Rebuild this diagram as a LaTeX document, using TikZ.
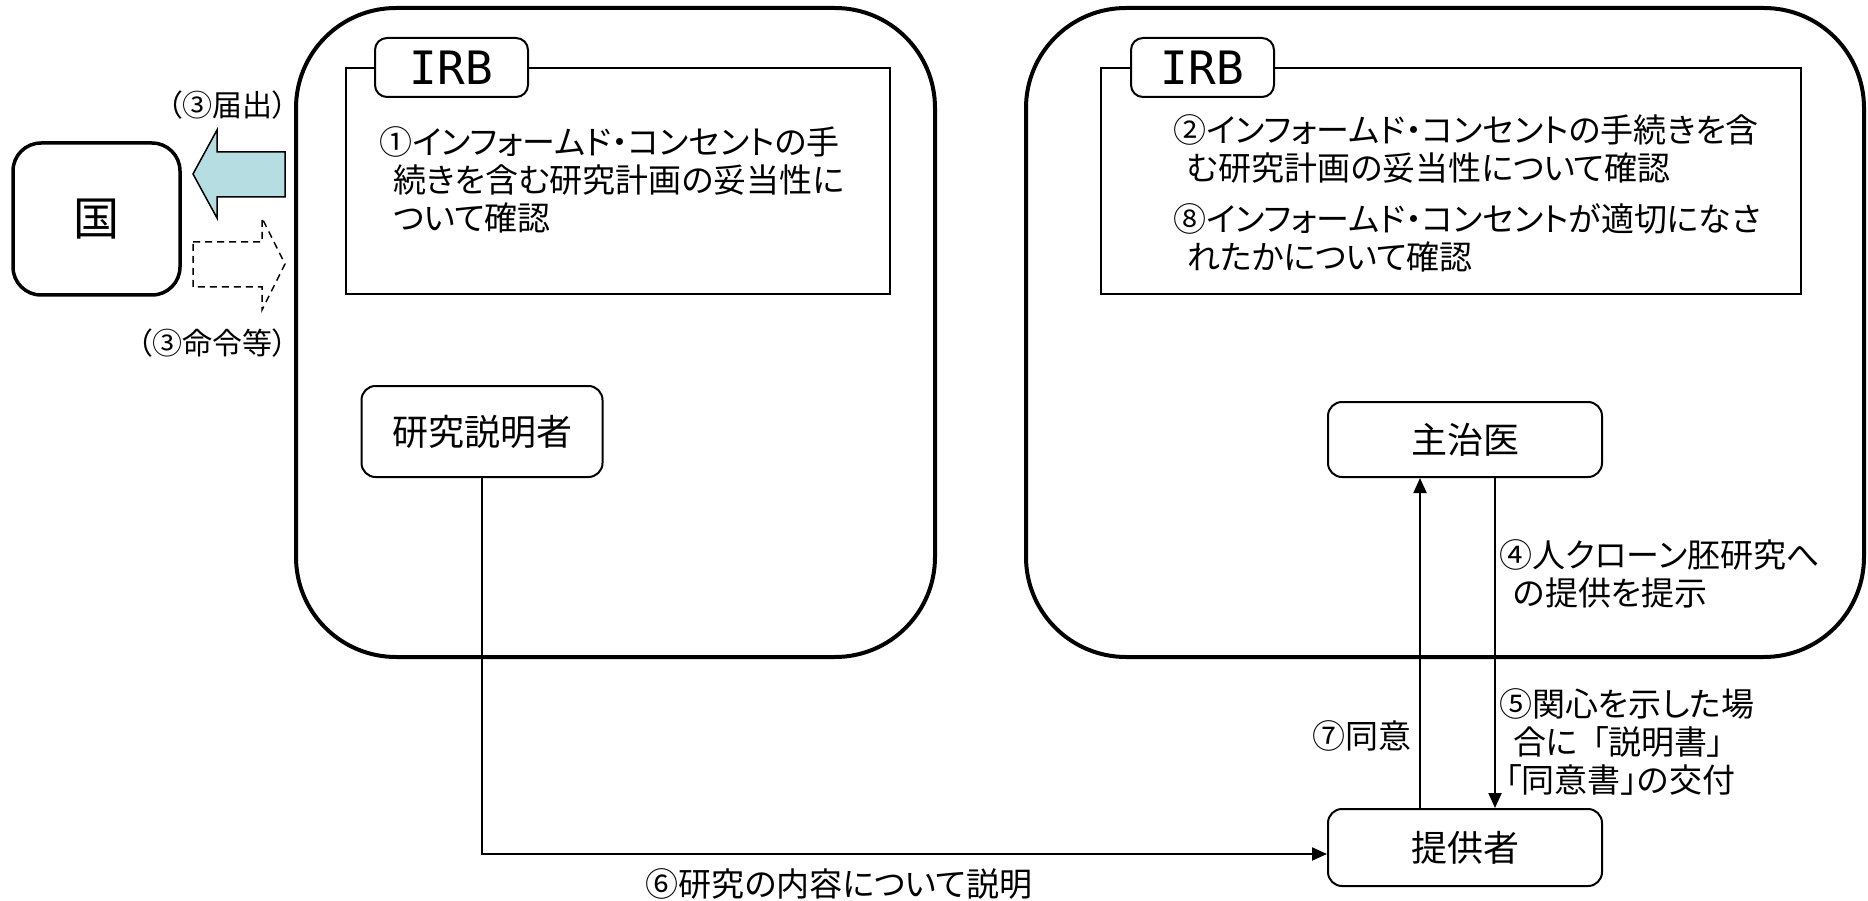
\documentclass[tikz,border=0pt]{standalone}
\usepackage{fontspec}
\setmainfont{Noto Sans CJK JP}[RawFeature=+palt]
\newfontfamily\irbfont{DejaVu Sans Mono}
\usetikzlibrary{arrows.meta}
\definecolor{aqua}{HTML}{B6DDE1}
\begin{document}
\begin{tikzpicture}[x=1pt,y=-1pt,
  bigbox/.style={draw,line width=4pt,rounded corners=100pt,inner sep=0pt},
  panel/.style={draw,line width=2pt,inner sep=0pt},
  tabbox/.style={draw,fill=white,line width=2pt,rounded corners=12pt,inner sep=0pt,font=\irbfont\fontsize{46}{46}\selectfont},
  actor/.style={draw,line width=2pt,rounded corners=14pt,inner sep=0pt,font=\fontsize{36}{36}\selectfont},
  txt/.style={align=left,inner sep=0pt,font=\fontsize{33}{38}\selectfont},
  lbl/.style={inner sep=0pt,font=\fontsize{30}{36}\selectfont},
  arr/.style={line width=2pt,-{Triangle[length=15pt,width=13pt]}}]
\useasboundingbox (0,0) rectangle (1868,901);
% big frames
\node[bigbox,minimum width=639pt,minimum height=649pt] (left) at (615.5,332.5) {};
\node[bigbox,minimum width=838pt,minimum height=649pt] (right) at (1445,332.5) {};
% IRB panels
\node[panel,minimum width=544pt,minimum height=226pt] (panelL) at (618,181) {};
\node[panel,minimum width=700pt,minimum height=226pt] (panelR) at (1451,181) {};
\node[tabbox,minimum width=153pt,minimum height=59pt] (tabL) at (451.5,67.5) {IRB};
\node[tabbox,minimum width=143pt,minimum height=59pt] (tabR) at (1202.5,67.5) {IRB};
\node[txt,anchor=north west] (t1) at (379,126) {①インフォームド・コンセントの手\\\hspace*{14pt}続きを含む研究計画の妥当性に\\\hspace*{14pt}ついて確認};
\node[txt,anchor=north west] (t2) at (1173,114) {②インフォームド・コンセントの手続きを含\\\hspace*{14pt}む研究計画の妥当性について確認};
\node[txt,anchor=north west] (t8) at (1173,203) {⑧インフォームド・コンセントが適切になさ\\\hspace*{14pt}れたかについて確認};
% country
\node[draw,line width=3.5pt,rounded corners=28pt,minimum width=167pt,minimum height=152pt,inner sep=0pt,font=\fontsize{46}{46}\selectfont] (kuni) at (96.5,219) {国};
\draw[line width=1.5pt,fill=aqua] (193,174) -- (217,130) -- (217,152) -- (285,152) -- (285,197) -- (217,197) -- (217,218) -- cycle;
\draw[line width=1.5pt,dash pattern=on 7pt off 5pt] (193,242) -- (262,242) -- (262,218) -- (285,264) -- (262,310) -- (262,287) -- (193,287) -- cycle;
\node[lbl,anchor=east] (todoke) at (288,105) {（③届出）};
\node[lbl,anchor=east] (meirei) at (288,343) {（③命令等）};
% actors
\node[actor,minimum width=241pt,minimum height=91pt] (expl) at (482,431.5) {研究説明者};
\node[actor,minimum width=274pt,minimum height=75pt] (doctor) at (1465,439.5) {主治医};
\node[actor,minimum width=274pt,minimum height=77pt] (donor) at (1465,847.5) {提供者};
% connectors
\draw[arr] ([xshift=-45pt]donor.north) -- ([xshift=-45pt]doctor.south);
\draw[arr] ([xshift=30pt]doctor.south) -- ([xshift=30pt]donor.north);
\draw[arr] (expl.south) |- ([yshift=-6.5pt]donor.west);
% labels
\node[txt,anchor=north west] (l4) at (1499,539) {④人クローン胚研究へ\\\hspace*{14pt}の提供を提示};
\node[txt,anchor=north west] (l5) at (1499,688) {⑤関心を示した場\\\hspace*{14pt}合に\hspace{14pt}「説明書」\\\hspace*{6pt}「同意書」の交付};
\node[txt,anchor=east] (l7) at (1412,736) {⑦同意};
\node[txt] (l6) at (839,884) {⑥研究の内容について説明};
\end{tikzpicture}
\end{document}
